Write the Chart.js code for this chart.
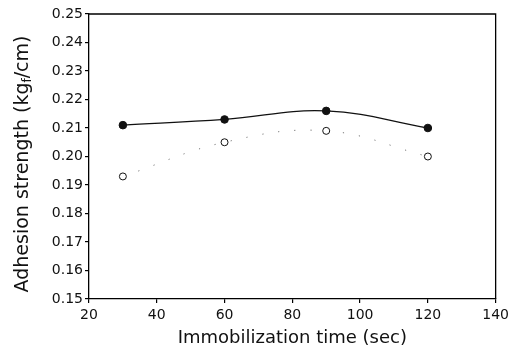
<!DOCTYPE html>
<html>
<head>
<meta charset="utf-8">
<script src="https://cdn.jsdelivr.net/npm/chart.js@4.4.1/dist/chart.umd.min.js"></script>
<style>
html,body{margin:0;padding:0;background:#fff;}
#wrap{width:513px;height:356px;}
</style>
</head>
<body>
<div id="wrap"><canvas id="c" width="513" height="356"></canvas></div>
<script>
const times = [30, 60, 90, 120];
const filledSeries = [0.211, 0.213, 0.216, 0.210];
const openSeries = [0.193, 0.205, 0.209, 0.200];
const xTicks = [20, 40, 60, 80, 100, 120, 140];
const yTicks = [0.15, 0.16, 0.17, 0.18, 0.19, 0.20, 0.21, 0.22, 0.23, 0.24, 0.25];
const xTitle = 'Immobilization time (sec)';
const yTitleParts = ['Adhesion strength (kg', 'f', '/cm)'];

const FONT = '"DejaVu Sans", sans-serif';

const framePlugin = {
  id: 'frame',
  afterDraw(chart) {
    const {ctx, chartArea: a} = chart;
    ctx.save();
    ctx.strokeStyle = '#000';
    ctx.lineWidth = 1.3;
    ctx.beginPath();
    ctx.moveTo(a.left, a.top);
    ctx.lineTo(a.right, a.top);
    ctx.lineTo(a.right, a.bottom);
    ctx.stroke();
    // x title
    ctx.fillStyle = '#111';
    ctx.font = '18px ' + FONT;
    ctx.textAlign = 'center';
    ctx.textBaseline = 'middle';
    ctx.fillText(xTitle, (a.left + a.right) / 2, 338);
    // y title with subscript
    ctx.translate(22, 164);
    ctx.rotate(-Math.PI / 2);
    const big = '19px ' + FONT, small = '12px ' + FONT;
    ctx.font = big; const w1 = ctx.measureText(yTitleParts[0]).width;
    ctx.font = small; const w2 = ctx.measureText(yTitleParts[1]).width;
    ctx.font = big; const w3 = ctx.measureText(yTitleParts[2]).width;
    let x = -(w1 + w2 + w3) / 2;
    ctx.textAlign = 'left';
    ctx.textBaseline = 'alphabetic';
    ctx.font = big; ctx.fillText(yTitleParts[0], x, 6); x += w1;
    ctx.font = small; ctx.fillText(yTitleParts[1], x, 9); x += w2;
    ctx.font = big; ctx.fillText(yTitleParts[2], x, 6);
    ctx.restore();
  }
};

new Chart(document.getElementById('c'), {
  type: 'line',
  data: {
    datasets: [
      {
        label: 'filled',
        data: times.map((t, i) => ({x: t, y: filledSeries[i]})),
        borderColor: '#111',
        borderWidth: 1.3,
        pointRadius: 3.8,
        pointBackgroundColor: '#111',
        pointBorderColor: '#111',
        pointBorderWidth: 1,
        tension: 0.4
      },
      {
        label: 'open',
        data: times.map((t, i) => ({x: t, y: openSeries[i]})),
        borderColor: '#777',
        borderWidth: 1,
        borderDash: [1.2, 15],
        pointRadius: 3.5,
        pointBackgroundColor: '#fff',
        pointBorderColor: '#111',
        pointBorderWidth: 1,
        tension: 0.4
      }
    ]
  },
  options: {
    responsive: false,
    animation: false,
    layout: {padding: {top: 14, right: 17, left: 0, bottom: 0}},
    plugins: {legend: {display: false}, tooltip: {enabled: false}},
    scales: {
      x: {
        type: 'linear',
        min: 20, max: 140,
        afterBuildTicks: s => { s.ticks = xTicks.map(v => ({value: v})); },
        afterFit: s => { s.height = 57; },
        ticks: {color: '#111', font: {family: FONT, size: 14}, padding: 4, maxRotation: 0},
        grid: {display: true, drawOnChartArea: false, drawTicks: true, tickLength: 4, color: '#000', lineWidth: 1.2},
        border: {display: true, color: '#000', width: 1.3},
        title: {display: false}
      },
      y: {
        type: 'linear',
        min: 0.15, max: 0.25,
        afterBuildTicks: s => { s.ticks = yTicks.map(v => ({value: v})); },
        afterFit: s => { s.width = 89; },
        ticks: {color: '#111', font: {family: FONT, size: 14}, padding: 2,
          callback: v => v.toFixed(2)},
        grid: {display: true, drawOnChartArea: false, drawTicks: true, tickLength: 4, color: '#000', lineWidth: 1.2},
        border: {display: true, color: '#000', width: 1.3},
        title: {display: false}
      }
    }
  },
  plugins: [framePlugin]
});
</script>
</body>
</html>
